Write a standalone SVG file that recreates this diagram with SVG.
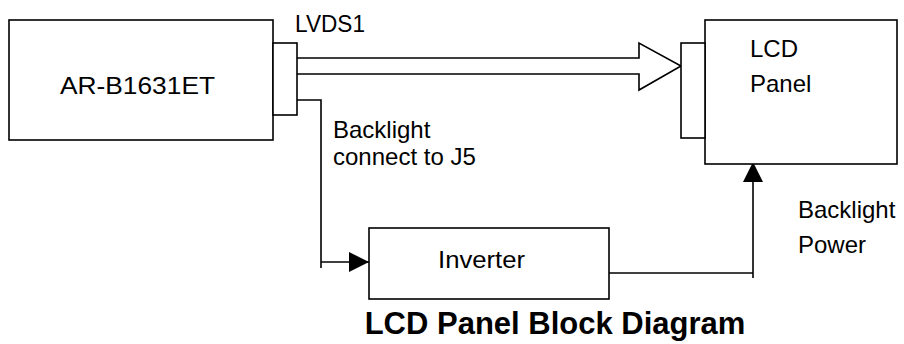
<svg xmlns="http://www.w3.org/2000/svg" width="904" height="344" viewBox="0 0 904 344">
<style>
.box{fill:#fff;stroke:#000;stroke-width:1.6}
.ln{fill:none;stroke:#000;stroke-width:1.6}
.t{font-family:"Liberation Sans",Arial,sans-serif;font-size:24px;fill:#000}
.title{font-family:"Liberation Sans",Arial,sans-serif;font-size:31px;font-weight:bold;fill:#000}
</style>
<defs>
<marker id="ah" viewBox="0 0 20 20" refX="20" refY="10" markerWidth="20" markerHeight="20" markerUnits="userSpaceOnUse" orient="auto">
<path d="M0,0 L20,10 L0,20 Z" fill="#000"/>
</marker>
</defs>
<rect width="904" height="344" fill="#fff"/>
<g id="connectors">
<path class="ln" d="M297,58 H639 V43 L681,66 L639,90 V74 H297"/>
<path class="ln" d="M297,100 H321 V268"/>
<path class="ln" d="M321,262 H369" marker-end="url(#ah)"/>
<path class="ln" d="M609,273 H753"/>
<path class="ln" d="M753,278 V162" marker-end="url(#ah)"/>
</g>
<g id="arb1631et">
<rect class="box" x="9" y="20" width="264" height="120"/>
<rect class="box" x="273" y="43" width="24" height="72"/>
<text class="t" x="60" y="94" textLength="155" lengthAdjust="spacingAndGlyphs">AR-B1631ET</text>
</g>
<g id="lcdpanel">
<rect class="box" x="705" y="20" width="192" height="144"/>
<rect class="box" x="681" y="43" width="24" height="95"/>
<text class="t" x="750" y="56.5">LCD</text>
<text class="t" x="750" y="91.5">Panel</text>
</g>
<g id="inverter">
<rect class="box" x="369" y="228" width="240" height="71"/>
<text class="t" x="438" y="267.5" textLength="87" lengthAdjust="spacingAndGlyphs">Inverter</text>
</g>
<g id="labels">
<text class="t" x="295" y="31.5" textLength="70" lengthAdjust="spacingAndGlyphs">LVDS1</text>
<text class="t" x="333" y="138">Backlight</text>
<text class="t" x="333" y="165">connect to J5</text>
<text class="t" x="798" y="218">Backlight</text>
<text class="t" x="798" y="252.5">Power</text>
<text class="title" x="555" y="334" text-anchor="middle">LCD Panel Block Diagram</text>
</g>
</svg>
